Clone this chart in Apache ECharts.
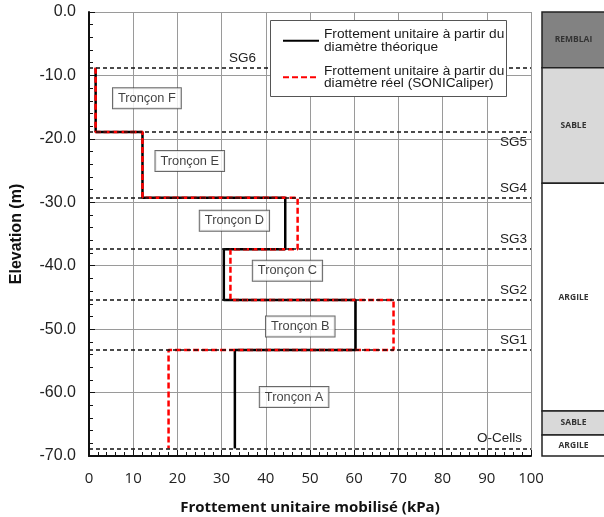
<!DOCTYPE html>
<html>
<head>
<meta charset="utf-8">
<script src="https://cdn.jsdelivr.net/npm/echarts@6/dist/echarts.min.js"></script>
<style>html,body{margin:0;padding:0;background:#fff;}#c{width:604px;height:517px;}</style>
</head>
<body>
<div id="c"></div>
<script>
// ---- data ----
var sgNames = ['SG6', 'SG5', 'SG4', 'SG3', 'SG2', 'SG1', 'O-Cells'];
var sgElevation = [-8.8, -18.9, -29.3, -37.4, -45.4, -53.3, -68.8];
var sectionNames = ['Tronçon F', 'Tronçon E', 'Tronçon D', 'Tronçon C', 'Tronçon B', 'Tronçon A'];
var frictionTheoretical = [1.5, 12.1, 44.4, 30.5, 60.3, 33.0];
var frictionReal = [1.5, 12.1, 47.2, 32.0, 68.9, 18.0];
var sectionLabelX = [13.1, 22.8, 32.9, 44.9, 47.8, 46.4];
var sectionLabelY = [-13.6, -23.5, -32.9, -40.8, -49.6, -60.7];
var strataNames = ['REMBLAI', 'SABLE', 'ARGILE', 'SABLE', 'ARGILE'];
var strataTop = [0, -8.8, -27.0, -62.9, -66.7];
var strataBottom = [-8.8, -27.0, -62.9, -66.7, -70.0];
var seriesNames = ['Frottement unitaire à partir du\ndiamètre théorique',
                   'Frottement unitaire à partir du\ndiamètre réel (SONICaliper)'];

function stepPoints(vals) {
  var pts = [];
  for (var i = 0; i < vals.length; i++) {
    pts.push([vals[i], sgElevation[i]]);
    pts.push([vals[i], sgElevation[i + 1]]);
  }
  return pts;
}
var strataColor = {REMBLAI: '#828282', SABLE: '#d9d9d9', ARGILE: '#ffffff'};

var sgLabelPos = {'SG6': 'insideStartTop', 'SG5': 'insideEndBottom'};
var markData = sgNames.map(function (n, i) {
  var pos = sgLabelPos[n] || 'insideEndTop';
  var dist = n === 'SG6' ? [140, 3] : (n === 'O-Cells' ? [9, 3] : [4, 3]);
  return {name: n, yAxis: sgElevation[i], label: {position: pos, distance: dist}};
});

var chart = echarts.init(document.getElementById('c'), null, {renderer: 'canvas'});
var option = {
  animation: false,
  backgroundColor: '#fff',
  grid: [
    {left: 89, right: 73, top: 12, bottom: 61, containLabel: false, outerBoundsMode: 'none'},
    {left: 542, width: 63, top: 12, bottom: 61, containLabel: false, outerBoundsMode: 'none'}
  ],
  graphic: [{
    type: 'rect', left: 270, top: 20, z: 10,
    shape: {width: 236, height: 76},
    style: {fill: '#fff', stroke: '#555', lineWidth: 1}
  }],
  legend: {
    data: seriesNames,
    orient: 'vertical',
    left: 282, top: 22,
    padding: 0, itemGap: -1,
    itemWidth: 36, itemHeight: 12,
    z: 11,
    selectedMode: false,
    itemStyle: {opacity: 0},
    textStyle: {fontFamily: 'Liberation Sans', fontSize: 13.7, lineHeight: 12.5, color: '#1a1a1a', padding: [12.5, 0, 0, 0]}
  },
  xAxis: [{
    type: 'value', gridIndex: 0, min: 0, max: 100, interval: 10,
    name: 'Frottement unitaire mobilisé (kPa)',
    nameLocation: 'middle', nameGap: 44,
    nameTextStyle: {fontFamily: 'Open Sans', fontWeight: 'bold', fontSize: 15, color: '#111'},
    axisLine: {show: true, onZero: false, lineStyle: {color: '#111', width: 2}},
    axisTick: {show: true, inside: true, length: 6, lineStyle: {color: '#111', width: 1}},
    minorTick: {show: true, splitNumber: 5, length: 4, lineStyle: {color: '#111', width: 1}},
    axisLabel: {fontFamily: 'Open Sans', fontSize: 15, color: '#222', margin: 15},
    splitLine: {show: true, lineStyle: {color: '#9a9a9a', width: 1}}
  }, {
    type: 'value', gridIndex: 1, min: 0, max: 1, show: false
  }],
  yAxis: [{
    type: 'value', gridIndex: 0, min: -70, max: 0, interval: 10,
    name: 'Elevation (m)',
    nameLocation: 'middle', nameGap: 64,
    nameTextStyle: {fontFamily: 'Liberation Sans', fontWeight: 'bold', fontSize: 16, color: '#111'},
    axisLine: {show: true, onZero: false, lineStyle: {color: '#111', width: 2}},
    axisTick: {show: true, inside: true, length: 6, lineStyle: {color: '#111', width: 1}},
    minorTick: {show: true, splitNumber: 5, length: 4, lineStyle: {color: '#111', width: 1}},
    axisLabel: {fontFamily: 'Liberation Sans', fontSize: 16, color: '#222', margin: 13,
      formatter: function (v) { return v.toFixed(1); }},
    splitLine: {show: true, lineStyle: {color: '#9a9a9a', width: 1}}
  }, {
    type: 'value', gridIndex: 1, min: -70, max: 0, show: false
  }],
  series: [
    {
      name: 'SG', type: 'line', data: [], z: 1, silent: true,
      markLine: {
        silent: true, symbol: 'none', animation: false,
        lineStyle: {color: '#111', type: [4, 3], width: 1.5},
        label: {show: true, formatter: '{b}', fontFamily: 'Liberation Sans', fontSize: 13.5, color: '#222'},
        data: markData
      }
    },
    {
      name: seriesNames[0], type: 'line', data: stepPoints(frictionTheoretical),
      symbol: 'none', z: 3,
      lineStyle: {color: '#000', width: 2.5},
      itemStyle: {color: '#000'}
    },
    {
      name: seriesNames[1], type: 'line', data: stepPoints(frictionReal),
      symbol: 'none', z: 4,
      lineStyle: {color: '#ff0000', width: 2.5, type: [6, 3]},
      itemStyle: {color: '#ff0000'}
    },
    {
      name: 'labels', type: 'scatter', symbolSize: 0, z: 6, silent: true,
      data: sectionNames.map(function (n, i) { return {name: n, value: [sectionLabelX[i], sectionLabelY[i]]}; }),
      label: {
        show: true, position: 'inside', formatter: '{b}',
        fontFamily: 'Liberation Sans', fontSize: 12.8, color: '#111',
        backgroundColor: '#fff', borderColor: '#444', borderWidth: 1, padding: [4, 5, 3, 5]
      }
    },
    {
      name: 'strata', type: 'custom', xAxisIndex: 1, yAxisIndex: 1, silent: true,
      data: strataNames.map(function (n, i) { return [strataTop[i], strataBottom[i], i]; }),
      renderItem: function (params, api) {
        var top = api.value(0), bot = api.value(1), idx = api.value(2);
        var p1 = api.coord([0, top]);
        var p2 = api.coord([1, bot]);
        return {
          type: 'rect',
          shape: {x: p1[0], y: p1[1], width: p2[0] - p1[0], height: p2[1] - p1[1]},
          style: {fill: strataColor[strataNames[idx]], stroke: '#222', lineWidth: 1.5},
          textContent: {style: {text: strataNames[idx], fontFamily: 'Open Sans', fontWeight: 'bold', fontSize: 8.5, fill: '#333'}},
          textConfig: {position: 'inside'}
        };
      }
    }
  ]
};
chart.setOption(option);
</script>
</body>
</html>
